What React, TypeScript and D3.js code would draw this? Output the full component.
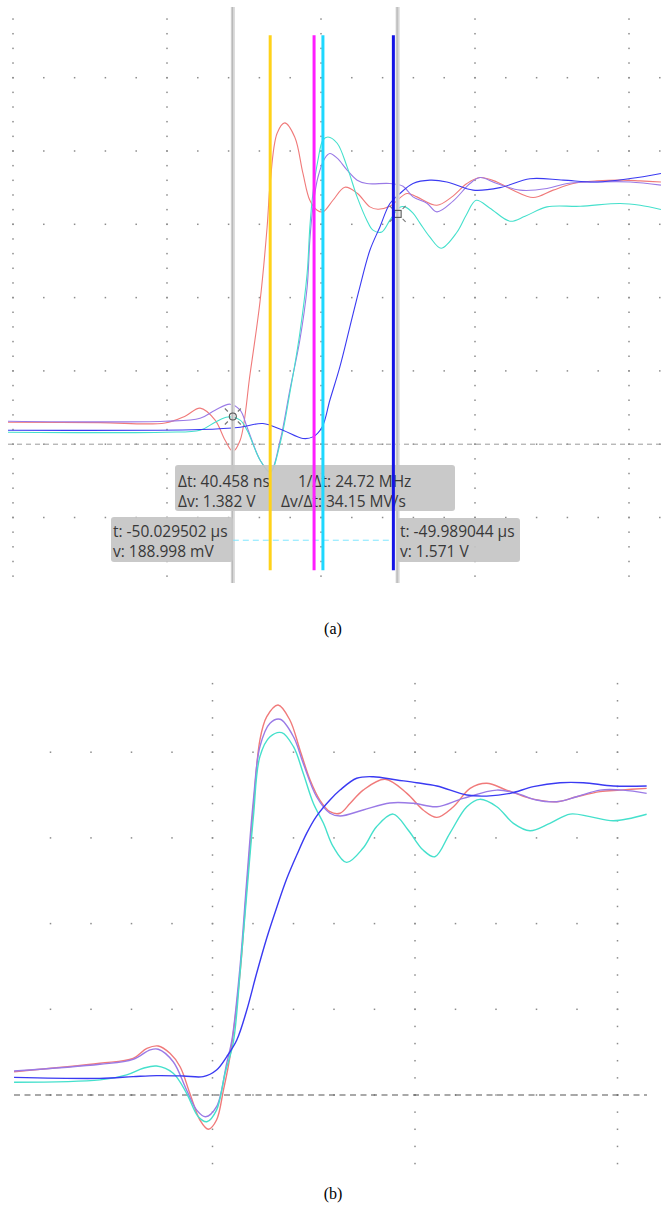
import React from "react";
import * as d3 from "d3";

// panel (a): time in ns from the left graticule line (40 ns/div), volts (0.5 V/div)
const redA: [number, number][] = [
  [-1.3, 0.15], [22.6, 0.147], [39.5, 0.145], [44.7, 0.191], [48.6, 0.246], [52.5, 0.164],
  [55.1, 0.027], [57.1, -0.048], [59.0, 0.027], [61.6, 0.484], [64.2, 0.982], [66.0, 1.48],
  [66.8, 1.78], [68.6, 2.121], [70.6, 2.192], [73.2, 2.094], [75.3, 1.849], [77.1, 1.664],
  [79.0, 1.596], [80.5, 1.585], [83.1, 1.664], [86.2, 1.753], [89.4, 1.712], [92.7, 1.619],
  [94.8, 1.603], [97.9, 1.623], [102.3, 1.71], [104.9, 1.687], [110.1, 1.63], [114.0, 1.687],
  [117.9, 1.778], [121.3, 1.819], [125.7, 1.789], [129.9, 1.733], [135.1, 1.683], [140.3, 1.733],
  [145.5, 1.778], [151.7, 1.796], [158.4, 1.801], [162.9, 1.796], [168.3, 1.789],
];
const purpleA: [number, number][] = [
  [-1.3, 0.157], [39.5, 0.157], [48.6, 0.177], [52.5, 0.232], [56.4, 0.273], [59.0, 0.232],
  [60.8, 0.116], [64.2, -0.109], [66.8, -0.191], [69.4, 0.027], [71.9, 0.368], [74.5, 0.709],
  [76.4, 1.071], [77.1, 1.392], [77.9, 1.617], [79.2, 1.821], [81.0, 1.951], [82.3, 1.983],
  [84.2, 1.951], [86.8, 1.869], [89.4, 1.801], [91.9, 1.778], [97.9, 1.778], [101.3, 1.76],
  [103.9, 1.687], [107.5, 1.644], [110.1, 1.585], [114.3, 1.658], [118.7, 1.778], [121.3, 1.819],
  [125.7, 1.778], [131.7, 1.733], [138.7, 1.744], [143.9, 1.778], [151.7, 1.789], [160.3, 1.789],
  [168.3, 1.767],
];
const cyanA: [number, number][] = [
  [-1.3, 0.082], [39.5, 0.082], [48.6, 0.095], [52.5, 0.15], [55.8, 0.186], [59.0, 0.164],
  [60.8, 0.095], [64.2, -0.109], [66.8, -0.191], [69.4, 0.007], [71.9, 0.348], [74.5, 0.757],
  [76.4, 1.166], [77.1, 1.48], [77.9, 1.712], [79.2, 1.937], [80.5, 2.074], [81.8, 2.096],
  [84.2, 2.053], [86.8, 1.89], [89.4, 1.685], [91.9, 1.528], [93.5, 1.46], [95.8, 1.448],
  [97.9, 1.528], [100.5, 1.617], [101.8, 1.619], [103.9, 1.576], [105.7, 1.508], [108.3, 1.412],
  [111.2, 1.337], [115.3, 1.446], [117.7, 1.562], [120.3, 1.664], [123.9, 1.61], [129.1, 1.521],
  [133.0, 1.555], [138.7, 1.619], [147.3, 1.623], [157.7, 1.642], [162.9, 1.63], [168.3, 1.601],
];
const blueA: [number, number][] = [
  [-1.3, 0.095], [48.6, 0.1], [59.0, 0.116], [64.9, 0.141], [70.1, 0.095], [75.3, 0.039],
  [77.9, 0.05], [80.3, 0.118], [82.3, 0.3], [84.9, 0.527], [87.5, 0.8], [90.1, 1.073],
  [92.7, 1.323], [95.3, 1.482], [97.9, 1.642], [100.5, 1.71], [103.9, 1.778], [108.3, 1.801],
  [112.7, 1.789], [119.5, 1.733], [126.5, 1.75], [134.3, 1.811], [142.9, 1.801], [151.7, 1.789],
  [160.3, 1.812], [168.3, 1.847],
];

// panel (b): time in ns (50 ns/div), volts (0.5 V/div)
const redB: [number, number][] = [
  [1.0, 0.136], [22.2, 0.185], [30.4, 0.214], [33.8, 0.272], [36.6, 0.286], [39.5, 0.243],
  [42.0, 0.165], [44.4, 0.01], [46.9, -0.146], [49.0, -0.2], [51.0, -0.146], [52.7, 0.029],
  [54.3, 0.223], [56.8, 0.71], [58.4, 1.196], [60.1, 1.682], [61.7, 2.071], [63.4, 2.207],
  [66.2, 2.275], [69.1, 2.188], [71.6, 2.013], [74.1, 1.838], [76.5, 1.721], [79.0, 1.653],
  [81.5, 1.644], [84.0, 1.702], [87.2, 1.779], [92.6, 1.842], [98.0, 1.76], [102.0, 1.663],
  [105.4, 1.62], [109.5, 1.682], [113.6, 1.789], [117.7, 1.819], [122.6, 1.779], [128.4, 1.731],
  [135.0, 1.711], [139.9, 1.74], [145.7, 1.77], [150.6, 1.779], [157.2, 1.789],
];
const purpleB: [number, number][] = [
  [1.0, 0.14], [22.2, 0.179], [30.4, 0.208], [34.6, 0.263], [36.6, 0.267], [40.3, 0.194],
  [43.6, 0.029], [46.1, -0.088], [48.3, -0.127], [51.0, -0.068], [53.5, 0.185], [54.8, 0.321],
  [56.8, 0.749], [58.4, 1.235], [60.1, 1.721], [61.7, 2.032], [64.2, 2.169], [66.7, 2.192],
  [70.0, 2.09], [72.4, 1.935], [75.7, 1.74], [79.0, 1.644], [81.5, 1.628], [87.2, 1.663],
  [93.8, 1.704], [99.6, 1.702], [105.4, 1.682], [111.9, 1.731], [120.2, 1.779], [125.1, 1.76],
  [130.0, 1.721], [135.0, 1.711], [139.9, 1.74], [145.7, 1.779], [151.4, 1.779], [157.2, 1.76],
];
const cyanB: [number, number][] = [
  [1.0, 0.074], [22.2, 0.088], [28.8, 0.117], [32.9, 0.156], [36.2, 0.169], [40.3, 0.127],
  [43.6, 0.01], [46.5, -0.127], [48.6, -0.156], [51.0, -0.088], [53.1, 0.127], [55.1, 0.302],
  [56.8, 0.71], [58.4, 1.157], [60.1, 1.624], [61.7, 1.974], [64.2, 2.09], [67.1, 2.114],
  [70.0, 2.032], [72.4, 1.877], [74.9, 1.702], [77.4, 1.585], [79.8, 1.449], [83.1, 1.357],
  [87.2, 1.441], [90.5, 1.565], [94.6, 1.639], [98.3, 1.546], [102.0, 1.429], [104.9, 1.39],
  [108.6, 1.527], [112.8, 1.682], [116.0, 1.725], [120.2, 1.682], [124.3, 1.585], [128.4, 1.542],
  [133.3, 1.585], [138.3, 1.639], [143.2, 1.624], [149.0, 1.6], [157.2, 1.638],
];
const blueB: [number, number][] = [
  [1.0, 0.103], [22.2, 0.097], [30.4, 0.107], [36.2, 0.113], [42.8, 0.111], [47.7, 0.107],
  [51.0, 0.146], [53.5, 0.223], [56.0, 0.321], [58.4, 0.49], [60.9, 0.71], [63.4, 0.916],
  [65.9, 1.097], [68.3, 1.26], [70.8, 1.4], [73.3, 1.529], [75.7, 1.627], [79.0, 1.721],
  [81.5, 1.779], [85.6, 1.848], [89.7, 1.857], [95.5, 1.838], [100.4, 1.822], [105.4, 1.803],
  [112.8, 1.75], [117.7, 1.744], [123.5, 1.76], [129.2, 1.799], [135.8, 1.822], [141.6, 1.822],
  [149.0, 1.803], [157.2, 1.803],
];

// cursors of panel (a)
const cursorTimes = [57.1, 99.9];
const cursorVolts = [0.188998, 1.571];
const markerTimes = [66.8, 78.2, 80.5, 98.8];
const markerSpan = [2.79, -0.86];
const cyanDashVolt = -0.655;

const deltaLabels = [
  ["Δt: 40.458 ns", "1/Δt: 24.72 MHz"],
  ["Δv: 1.382 V", "Δv/Δt: 34.15 MV/s"],
];
const cursorLabels = [
  ["t: -50.029502 μs", "v: 188.998 mV"],
  ["t: -49.989044 μs", "v: 1.571 V"],
];
const captions = ["(a)", "(b)"];

const traceColors = ["#f07a7a", "#9a7ae6", "#45e0cc", "#3a3af2"];
const markerColors = ["#ffd21a", "#ff1eff", "#1ed8ff", "#1414e6"];
const textColor = "#383838";
const font = "'Open Sans', 'Noto Sans', sans-serif";

const W = 661;
const H = 1207;

function Dots({ xs, ys, majorX, majorY, minorX, minorY, clip }: any) {
  const [x0, x1, y0, y1] = clip;
  const pts: [number, number][] = [];
  majorX.forEach((mx: number) => minorY.forEach((my: number) => pts.push([xs(mx), ys(my)])));
  majorY.forEach((my: number) => minorX.forEach((mx: number) => pts.push([xs(mx), ys(my)])));
  return (
    <g fill="#8c8c8c">
      {pts
        .filter(([x, y]) => x >= x0 && x <= x1 && y >= y0 && y <= y1)
        .map(([x, y], i) => (
          <rect key={i} x={x - 0.75} y={y - 0.75} width={1.5} height={1.5} />
        ))}
    </g>
  );
}

export default function App() {
  // panel (a) scales
  const xA = d3.scaleLinear().domain([0, 160]).range([13, 629]);
  const yA = d3.scaleLinear().domain([-1, 3]).range([590.8, 4.4]);
  // panel (b) scales
  const xB = d3.scaleLinear().domain([0, 160]).range([10, 658]);
  const yB = d3.scaleLinear().domain([-0.5, 2.5]).range([1180.7, 666.5]);

  const lineA = d3
    .line<[number, number]>()
    .x((d) => xA(d[0]))
    .y((d) => yA(d[1]))
    .curve(d3.curveCatmullRom.alpha(0.5));
  const lineB = d3
    .line<[number, number]>()
    .x((d) => xB(d[0]))
    .y((d) => yB(d[1]))
    .curve(d3.curveCatmullRom.alpha(0.5));

  const tracesA = [redA, purpleA, cyanA, blueA];
  const tracesB = [redB, purpleB, cyanB, blueB];

  const c1x = xA(cursorTimes[0]);
  const c2x = xA(cursorTimes[1]);
  const m1 = [c1x, yA(cursorVolts[0])];
  const m2 = [c2x, yA(cursorVolts[1])];

  const ticksX = (s: number, e: number, step: number) => d3.range(s, e + 1e-6, step);

  return (
    <svg
      width={W}
      height={H}
      style={{ position: "absolute", left: 0, top: 0, display: "block", background: "#fff" }}
      fontFamily={font}
    >
      <defs>
        <clipPath id="clipA">
          <rect x={8} y={5} width={653} height={580} />
        </clipPath>
        <clipPath id="clipB">
          <rect x={14} y={666} width={633} height={514} />
        </clipPath>
      </defs>

      {/* ---------- panel (a) ---------- */}
      <Dots
        xs={xA}
        ys={yA}
        majorX={ticksX(0, 160, 40)}
        majorY={ticksX(-1, 3, 0.5)}
        minorX={ticksX(0, 168, 8)}
        minorY={ticksX(-1, 3, 0.1)}
        clip={[8, 661, 12, 585]}
      />
      <line x1={8} x2={661} y1={yA(0)} y2={yA(0)} stroke="#9a9a9a" strokeWidth={1} strokeDasharray="5 4" />
      <g clipPath="url(#clipA)" fill="none">
        {tracesA.map((d, i) => (
          <path key={i} d={lineA(d) || ""} stroke={traceColors[i]} strokeWidth={1.1} />
        ))}
      </g>
      {cursorTimes.map((t, i) => (
        <g key={i}>
          <rect x={xA(t) - 2} y={7} width={4} height={576} fill="#d6d6d6" />
          <line x1={xA(t) - 0.5} x2={xA(t) - 0.5} y1={7} y2={583} stroke="#b4b4b4" strokeWidth={1} />
        </g>
      ))}
      <line
        x1={c1x}
        x2={xA(markerTimes[3])}
        y1={yA(cyanDashVolt)}
        y2={yA(cyanDashVolt)}
        stroke="#7fe6ff"
        strokeWidth={1}
        strokeDasharray="6 4"
      />
      {/* cursor markers */}
      <g stroke="#555" strokeWidth={1.1} fill="none">
        <circle cx={m1[0]} cy={m1[1]} r={3.5} />
        <rect x={m2[0] - 3.5} y={m2[1] - 3.5} width={7} height={7} />
        {[m1, m2].map((m, i) =>
          [
            [-1, -1],
            [1, -1],
            [-1, 1],
            [1, 1],
          ].map(([sx, sy], j) => (
            <line key={i + "-" + j} x1={m[0] + sx * 5} y1={m[1] + sy * 5} x2={m[0] + sx * 8} y2={m[1] + sy * 8} stroke="#777" />
          ))
        )}
      </g>

      {/* readouts */}
      <g fill="#c4c4c4" fillOpacity={0.92}>
        <rect x={175} y={465} width={280} height={46} rx={3} />
        <rect x={111} y={517} width={122} height={45} rx={3} />
        <rect x={397} y={518} width={123} height={44} rx={3} />
      </g>
      <g fill={textColor} fontSize={15.5}>
        <text x={178} y={486.5}>{deltaLabels[0][0]}</text>
        <text x={298} y={486.5}>{deltaLabels[0][1]}</text>
        <text x={178} y={506.5}>{deltaLabels[1][0]}</text>
        <text x={281} y={506.5}>{deltaLabels[1][1]}</text>
        <text x={113} y={537}>{cursorLabels[0][0]}</text>
        <text x={113} y={557}>{cursorLabels[0][1]}</text>
        <text x={400} y={537}>{cursorLabels[1][0]}</text>
        <text x={400} y={557}>{cursorLabels[1][1]}</text>
      </g>

      {markerTimes.map((t, i) => (
        <line
          key={i}
          x1={xA(t)}
          x2={xA(t)}
          y1={yA(markerSpan[0])}
          y2={yA(markerSpan[1])}
          stroke={markerColors[i]}
          strokeWidth={3}
        />
      ))}

      <text x={333} y={634} textAnchor="middle" fontFamily="'Liberation Serif', serif" fontSize={16} fill="#000">
        {captions[0]}
      </text>

      {/* ---------- panel (b) ---------- */}
      <Dots
        xs={xB}
        ys={yB}
        majorX={ticksX(0, 150, 50)}
        majorY={ticksX(-0.5, 2.5, 0.5)}
        minorX={ticksX(0, 160, 10)}
        minorY={ticksX(-0.5, 2.5, 0.1)}
        clip={[14, 648, 675, 1170]}
      />
      <line x1={14} x2={647} y1={yB(0)} y2={yB(0)} stroke="#555" strokeWidth={1.2} strokeDasharray="6 4.5" />
      <g clipPath="url(#clipB)" fill="none">
        {tracesB.map((d, i) => (
          <path key={i} d={lineB(d) || ""} stroke={traceColors[i]} strokeWidth={1.4} />
        ))}
      </g>

      <text x={333} y={1199} textAnchor="middle" fontFamily="'Liberation Serif', serif" fontSize={16} fill="#000">
        {captions[1]}
      </text>
    </svg>
  );
}
